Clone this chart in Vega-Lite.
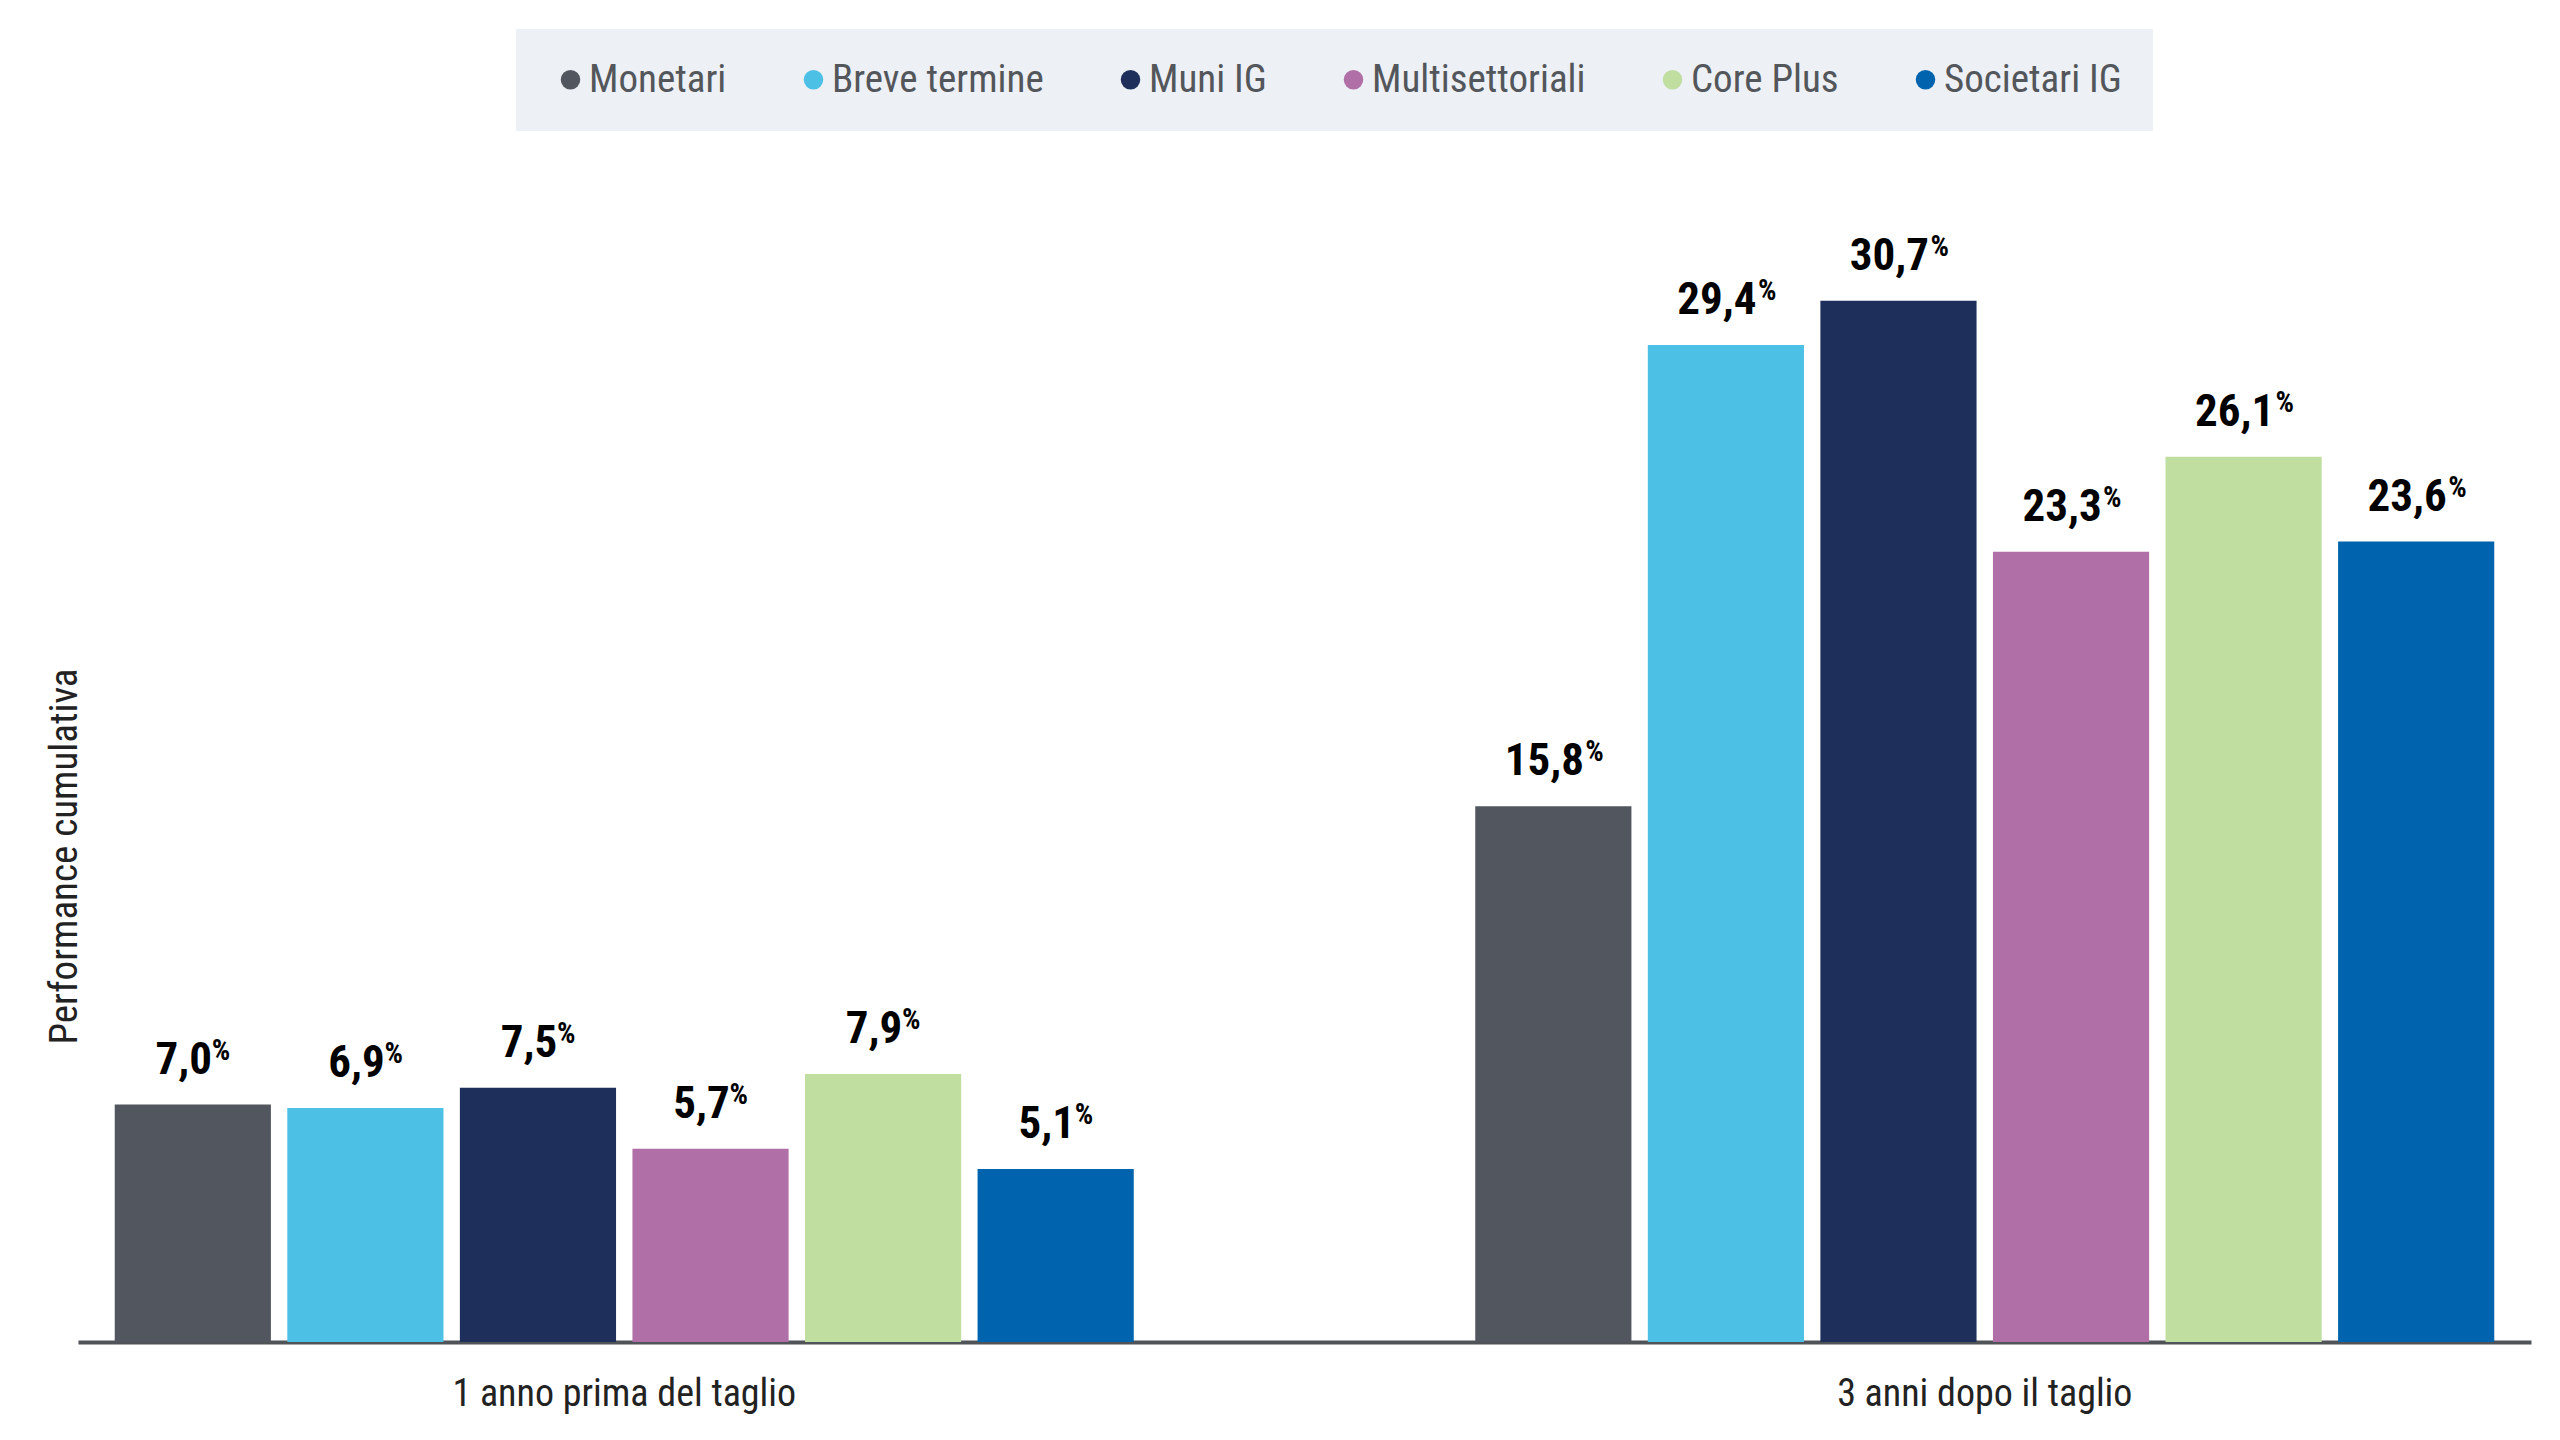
{
  "$schema": "https://vega.github.io/schema/vega-lite/v6.json",
  "autosize": {"type": "none"},
  "padding": {"left": 78, "top": 155, "right": 29, "bottom": 98},
  "width": 2453,
  "height": 1187,
  "background": "white",
  "config": {
    "locale": {"number": {"decimal": ",", "thousands": ".", "grouping": [3], "currency": ["", " €"]}},
    "view": {"stroke": null},
    "font": "Roboto Condensed, Liberation Sans Narrow, DejaVu Sans Condensed, sans-serif"
  },
  "data": {
    "values": [
      {"periodo": "1 anno prima del taglio", "categoria": "Monetari", "valore": 7.0},
      {"periodo": "1 anno prima del taglio", "categoria": "Breve termine", "valore": 6.9},
      {"periodo": "1 anno prima del taglio", "categoria": "Muni IG", "valore": 7.5},
      {"periodo": "1 anno prima del taglio", "categoria": "Multisettoriali", "valore": 5.7},
      {"periodo": "1 anno prima del taglio", "categoria": "Core Plus", "valore": 7.9},
      {"periodo": "1 anno prima del taglio", "categoria": "Societari IG", "valore": 5.1},
      {"periodo": "3 anni dopo il taglio", "categoria": "Monetari", "valore": 15.8},
      {"periodo": "3 anni dopo il taglio", "categoria": "Breve termine", "valore": 29.4},
      {"periodo": "3 anni dopo il taglio", "categoria": "Muni IG", "valore": 30.7},
      {"periodo": "3 anni dopo il taglio", "categoria": "Multisettoriali", "valore": 23.3},
      {"periodo": "3 anni dopo il taglio", "categoria": "Core Plus", "valore": 26.1},
      {"periodo": "3 anni dopo il taglio", "categoria": "Societari IG", "valore": 23.6}
    ]
  },
  "encoding": {
    "x": {
      "field": "periodo", "type": "nominal",
      "sort": ["1 anno prima del taglio", "3 anni dopo il taglio"],
      "scale": {"paddingInner": 0.251, "paddingOuter": 0.027},
      "axis": {
        "title": null, "labelAngle": 0, "labelFontSize": 38, "labelColor": "#222222", "labelLimit": 0,
        "labelBaseline": "alphabetic", "labelPadding": 63, "ticks": false, "domainColor": "#505358", "domainWidth": 4
      }
    },
    "xOffset": {
      "field": "categoria", "type": "nominal",
      "sort": ["Monetari", "Breve termine", "Muni IG", "Multisettoriali", "Core Plus", "Societari IG"],
      "scale": {"paddingInner": 0.095, "paddingOuter": 0}
    },
    "y": {
      "field": "valore", "type": "quantitative",
      "scale": {"domain": [0, 35], "nice": false},
      "axis": {
        "title": "Performance cumulativa", "labels": false, "ticks": false, "domain": false, "grid": false,
        "titleFontSize": 39, "titleColor": "#222222", "titleFontWeight": "normal",
        "titleX": -2, "titleY": 701, "titleAlign": "center", "titleBaseline": "alphabetic", "titleAngle": -90
      }
    }
  },
  "layer": [
    {
      "mark": {"type": "bar"},
      "encoding": {
        "color": {
          "field": "categoria", "type": "nominal",
          "scale": {
            "domain": ["Monetari", "Breve termine", "Muni IG", "Multisettoriali", "Core Plus", "Societari IG"],
            "range": ["#52565e", "#4dc0e6", "#1e2f5b", "#b06fa6", "#c0dea0", "#0063ae"]
          },
          "legend": {
            "orient": "none", "legendX": 438, "legendY": -126, "direction": "horizontal", "columns": 6,
            "title": null, "fillColor": "#edf0f5", "padding": 31, "symbolOffset": 4, "symbolType": "circle", "symbolSize": 380,
            "labelFontSize": 39, "labelColor": "#53565a", "columnPadding": 63, "labelOffset": -1,
            "symbolStrokeWidth": 0, "labelLimit": 0
          }
        }
      }
    },
    {
      "mark": {"type": "text", "fontSize": 45, "fontWeight": "bold", "color": "#000000", "dy": -31, "dx": -9, "baseline": "alphabetic", "align": "center"},
      "encoding": {"text": {"field": "valore", "type": "quantitative", "format": ".1f"}}
    },
    {
      "transform": [{"filter": "datum.valore < 10"}],
      "mark": {"type": "text", "fontSize": 29, "fontWeight": "bold", "color": "#000000", "dy": -45, "dx": 19, "baseline": "alphabetic", "align": "left", "text": "%"},
      "encoding": {}
    },
    {
      "transform": [{"filter": "datum.valore >= 10"}],
      "mark": {"type": "text", "fontSize": 29, "fontWeight": "bold", "color": "#000000", "dy": -45, "dx": 32, "baseline": "alphabetic", "align": "left", "text": "%"},
      "encoding": {}
    }
  ]
}
